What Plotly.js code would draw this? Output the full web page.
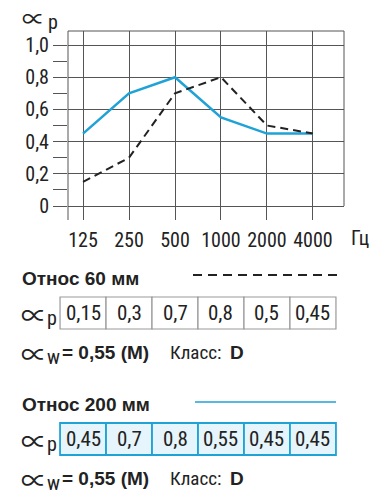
<!DOCTYPE html>
<html><head><meta charset="utf-8">
<script src="https://cdn.plot.ly/plotly-3.0.1.min.js"></script>
<style>body{margin:0;background:#fff}#chart{width:378px;height:500px}</style>
</head><body><div id="chart"></div>
<script>
// ---- data ----
const freqs = ['125', '250', '500', '1000', '2000', '4000'];
const unitLabel = 'Гц';
const yTickVals = [0, 0.2, 0.4, 0.6, 0.8, 1.0];
const yTickText = ['0', '0,2', '0,4', '0,6', '0,8', '1,0'];
const yMinorVals = [0.1, 0.3, 0.5, 0.7, 0.9];
const series60Name = 'Относ 60 мм';
const series60 = [0.15, 0.3, 0.7, 0.8, 0.5, 0.45];
const alphaW60 = '0,55 (M)';
const class60 = 'D';
const series200Name = 'Относ 200 мм';
const series200 = [0.45, 0.7, 0.8, 0.55, 0.45, 0.45];
const alphaW200 = '0,55 (M)';
const class200 = 'D';

// ---- style ----
const W = 378, H = 500;
const M = {l: 68, r: 34, t: 31, b: 280};
const plotW = W - M.l - M.r, plotH = H - M.t - M.b;
const xRange = [-0.327, 5.675];
const yRange = [-0.0866, 1.087];
const BLUE = '#1fa2d6', DARK = '#222', GRID = '#555';
const FONT = 'Liberation Sans, Arial, sans-serif';
const FONTN = 'Liberation Sans Narrow, Arial Narrow, Roboto Condensed, sans-serif';
const FONTA = 'Noto Sans CJK JP, DejaVu Sans, sans-serif';
const ALPHA = '\u221D';

const idx = freqs.map((_, i) => i);
const fmt = v => String(v).replace('.', ',');
const pxX = p => (p - M.l) / plotW;
const pxY = p => (H - M.b - p) / plotH;
const dataX = x => (x - xRange[0]) / (xRange[1] - xRange[0]);

const traces = [
  {x: idx, y: series200, name: series200Name, type: 'scatter', mode: 'lines',
   line: {color: BLUE, width: 2.5}, showlegend: false, hoverinfo: 'skip'},
  {x: idx, y: series60, name: series60Name, type: 'scatter', mode: 'lines',
   line: {color: DARK, width: 2, dash: '8px,5px'}, showlegend: false, hoverinfo: 'skip'}
];

const shapes = [
  {type: 'line', xref: 'paper', yref: 'paper', x0: 0, x1: 1, y0: 1, y1: 1, line: {color: GRID, width: 1}},
  {type: 'line', xref: 'paper', yref: 'paper', x0: 0, x1: 0, y0: 0, y1: 1, line: {color: GRID, width: 1}},
  {type: 'line', xref: 'paper', yref: 'y', x0: 1, x1: 1, y0: 0, y1: yRange[1], line: {color: GRID, width: 1}},
  // legend lines
  {type: 'line', xref: 'paper', yref: 'paper', x0: pxX(193), x1: pxX(338), y0: pxY(275), y1: pxY(275),
   line: {color: DARK, width: 2, dash: '9px,6px'}},
  {type: 'line', xref: 'paper', yref: 'paper', x0: pxX(195), x1: pxX(336), y0: pxY(402), y1: pxY(402),
   line: {color: BLUE, width: 1.5}}
];

const annotations = [];
function txt(text, x, y, size, family, anchor) {
  annotations.push({text: text, xref: 'paper', yref: 'paper', x: pxX(x), y: pxY(y),
    xanchor: anchor || 'left', yanchor: 'middle', showarrow: false, borderpad: 0,
    font: {family: family || FONT, size: size, color: DARK}});
}
function alphaSub(sub, x, y, size) {
  txt(ALPHA, x, y, size || 26, FONTA);
  txt(sub, x + 26, y + 5, 20, FONTN);
}
// axis title and unit
alphaSub('p', 21, 17, 23);
txt(unitLabel, 350, 238, 20, FONTN);

function block(name, values, aw, cls, top, border, fill, bw) {
  txt('<b>' + name + '</b>', 21, top, 19, FONT);
  const rowY = top + 35;
  alphaSub('p', 20, rowY);
  values.forEach((v, i) => {
    shapes.push({type: 'rect', xref: 'paper', yref: 'paper',
      x0: dataX(i - 0.5), x1: dataX(i + 0.5), y0: pxY(rowY - 16), y1: pxY(rowY + 16),
      line: {color: border, width: bw}, fillcolor: fill, layer: 'below'});
    annotations.push({text: fmt(v), xref: 'x', yref: 'paper', x: i, y: pxY(rowY),
      xanchor: 'center', yanchor: 'middle', showarrow: false,
      font: {family: FONTN, size: 21, color: DARK}});
  });
  const awY = rowY + 39;
  alphaSub('w', 20, awY);
  txt('<b>= ' + aw + '</b>', 61, awY, 19, FONT);
  txt('Класс:', 169, awY, 19, FONTN);
  txt('<b>' + cls + '</b>', 229, awY, 19, FONT);
}
block(series60Name, series60, alphaW60, class60, 278, '#999', '#fff', 1.2);
block(series200Name, series200, alphaW200, class200, 404, BLUE, '#e6f4fb', 1.8);

const layout = {
  width: W, height: H, margin: M, paper_bgcolor: '#fff', plot_bgcolor: '#fff',
  font: {family: FONT, color: DARK},
  xaxis: {range: xRange, tickmode: 'array', tickvals: idx, ticktext: freqs,
    showgrid: true, gridcolor: GRID, gridwidth: 1, zeroline: false, showline: false,
    ticks: '', ticklabelstandoff: 6, tickfont: {size: 20, color: DARK, family: FONTN}, fixedrange: true},
  yaxis: {range: yRange, tickmode: 'array', tickvals: yTickVals, ticktext: yTickText,
    showgrid: true, gridcolor: GRID, gridwidth: 1, zeroline: false, showline: false,
    ticks: 'outside', ticklen: 14, tickcolor: GRID, tickwidth: 1,
    minor: {tickmode: 'array', tickvals: yMinorVals, ticks: 'outside', ticklen: 14, tickcolor: GRID, tickwidth: 1, showgrid: false},
    tickfont: {size: 20, color: DARK, family: FONTN}, fixedrange: true},
  shapes: shapes, annotations: annotations, showlegend: false
};
Plotly.newPlot('chart', traces, layout, {displayModeBar: false, staticPlot: true});
</script></body></html>
